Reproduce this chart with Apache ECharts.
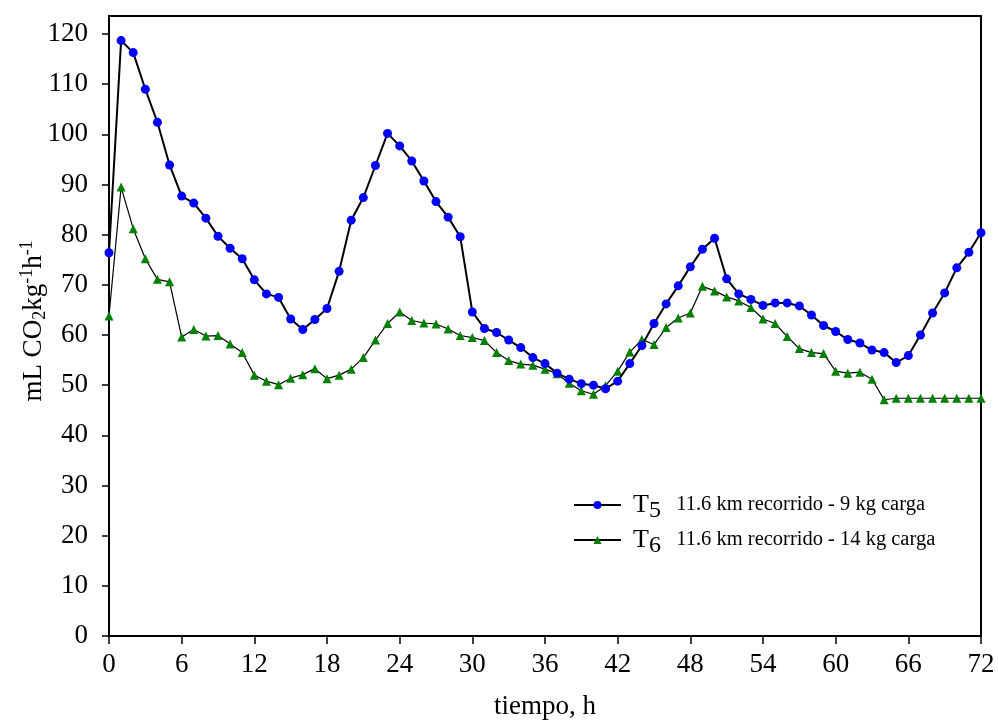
<!DOCTYPE html>
<html lang="es">
  <head>
    <meta charset="UTF-8" />
    <title>mL CO2 kg-1 h-1 vs tiempo</title>
    <script src="https://cdn.jsdelivr.net/npm/echarts@6/dist/echarts.min.js"></script>
    <style>
      html, body { margin: 0; padding: 0; background: #fff; }
      #chart { width: 998px; height: 722px; }
    </style>
  </head>
  <body>
    <div id="chart"></div>
    <script>
      /* ---------- data ---------- */
      const hours = Array.from({ length: 73 }, (_, i) => i);

      const t5 = [
        76.4, 118.7, 116.3, 109.0, 102.4, 93.9, 87.7, 86.3, 83.3, 79.7,
        77.3, 75.2, 71.0, 68.2, 67.5, 63.2, 61.1, 63.1, 65.3, 72.7,
        82.9, 87.4, 93.8, 100.2, 97.7, 94.7, 90.7, 86.6, 83.5, 79.6,
        64.6, 61.3, 60.5, 59.0, 57.5, 55.5, 54.3, 52.4, 51.2, 50.3,
        50.0, 49.3, 50.8, 54.3, 57.9, 62.3, 66.2, 69.8, 73.6, 77.1,
        79.3, 71.2, 68.2, 67.1, 65.9, 66.4, 66.4, 65.8, 64.0, 61.9,
        60.7, 59.1, 58.4, 57.0, 56.5, 54.5, 55.9, 60.0, 64.4, 68.4,
        73.4, 76.5, 80.4
      ];

      const t6 = [
        63.8, 89.5, 81.2, 75.2, 71.1, 70.6, 59.6, 61.1, 59.8, 59.9,
        58.2, 56.5, 52.0, 50.8, 50.1, 51.4, 52.1, 53.3, 51.3, 52.0,
        53.2, 55.5, 59.0, 62.3, 64.6, 62.9, 62.4, 62.2, 61.2, 59.9,
        59.5, 58.9, 56.5, 54.9, 54.2, 54.0, 53.2, 52.3, 50.4, 48.9,
        48.2, 49.9, 52.8, 56.6, 59.1, 58.1, 61.5, 63.4, 64.4, 69.7,
        68.8, 67.6, 66.8, 65.5, 63.2, 62.3, 59.7, 57.3, 56.5, 56.3,
        52.8, 52.4, 52.6, 51.2, 47.1, 47.4, 47.4, 47.4, 47.4, 47.4,
        47.4, 47.4, 47.4
      ];

      const xTicks = [0, 6, 12, 18, 24, 30, 36, 42, 48, 54, 60, 66, 72];
      const yTicks = [0, 10, 20, 30, 40, 50, 60, 70, 80, 90, 100, 110, 120];

      const legendText = {
        T5: "{t|T}{s|5}{d|   11.6 km recorrido - 9 kg carga}",
        T6: "{t|T}{s|6}{d|   11.6 km recorrido - 14 kg carga}",
      };

      /* ---------- chart ---------- */
      const font = "'Liberation Serif', 'DejaVu Serif', serif";
      const chart = echarts.init(document.getElementById("chart"), null, {
        renderer: "canvas",
      });

      const pairs = (ys) => hours.map((h, i) => [h, ys[i]]);

      chart.setOption({
        backgroundColor: "#fff",
        animation: false,
        textStyle: { fontFamily: font, color: "#000" },
        grid: {
          left: 109,
          right: 17,
          top: 16,
          bottom: 86,
          outerBoundsMode: "none",
          containLabel: false,
          show: true,
          borderColor: "#000",
          borderWidth: 2,
        },
        legend: {
          orient: "vertical",
          left: 573,
          top: 492,
          padding: 0,
          itemWidth: 47,
          itemHeight: 10,
          itemGap: 4,
          formatter: (name) => legendText[name],
          textStyle: {
            rich: {
              t: { fontSize: 26, fontFamily: font, color: "#000", padding: [0, 0, 0, 7] },
              s: { fontSize: 24, fontFamily: font, color: "#000", padding: [12, 0, 0, 0] },
              d: { fontSize: 20.5, fontFamily: font, color: "#000" },
            },
          },
          data: ["T5", "T6"],
        },
        xAxis: {
          type: "value",
          min: 0,
          max: 72,
          interval: 6,
          name: "tiempo, h",
          nameLocation: "middle",
          nameGap: 57,
          nameMoveOverlap: false,
          nameTextStyle: { fontSize: 27, fontFamily: font, color: "#000" },
          axisLine: { lineStyle: { color: "#000", width: 2 } },
          axisTick: { length: 8, lineStyle: { color: "#000", width: 1.5 }, customValues: xTicks },
          axisLabel: { fontSize: 27, fontFamily: font, color: "#000", margin: 15, customValues: xTicks },
          splitLine: { show: false },
        },
        yAxis: {
          type: "value",
          min: 0,
          max: 123.6,
          interval: 10,
          name: "{a|mL CO}{sub|2}{a|kg}{sup|-1}{a|h}{sup|-1}",
          nameLocation: "middle",
          nameGap: 59,
          nameRotate: 90,
          nameMoveOverlap: false,
          nameTextStyle: {
            padding: [0, 0, 0, 10],
            rich: {
              a: { fontSize: 27, fontFamily: font, color: "#000" },
              sub: { fontSize: 18, fontFamily: font, color: "#000", padding: [12, 0, 0, 0] },
              sup: { fontSize: 18, fontFamily: font, color: "#000", padding: [0, 0, 14, 0] },
            },
          },
          axisLine: { lineStyle: { color: "#000", width: 2 } },
          axisTick: { length: 7, lineStyle: { color: "#000", width: 1.5 }, customValues: yTicks },
          axisLabel: { fontSize: 27, fontFamily: font, color: "#000", margin: 21, customValues: yTicks },
          splitLine: { show: false },
        },
        series: [
          {
            name: "T5",
            type: "line",
            data: pairs(t5),
            clip: false,
            symbol: "circle",
            symbolSize: 9,
            itemStyle: { color: "#0000ff" },
            lineStyle: { color: "#000", width: 2 },
            z: 3,
          },
          {
            name: "T6",
            type: "line",
            data: pairs(t6),
            clip: false,
            symbol: "triangle",
            symbolSize: 9,
            itemStyle: { color: "#008000" },
            lineStyle: { color: "#000", width: 1.2 },
            z: 2,
          },
        ],
      });
    </script>
  </body>
</html>
